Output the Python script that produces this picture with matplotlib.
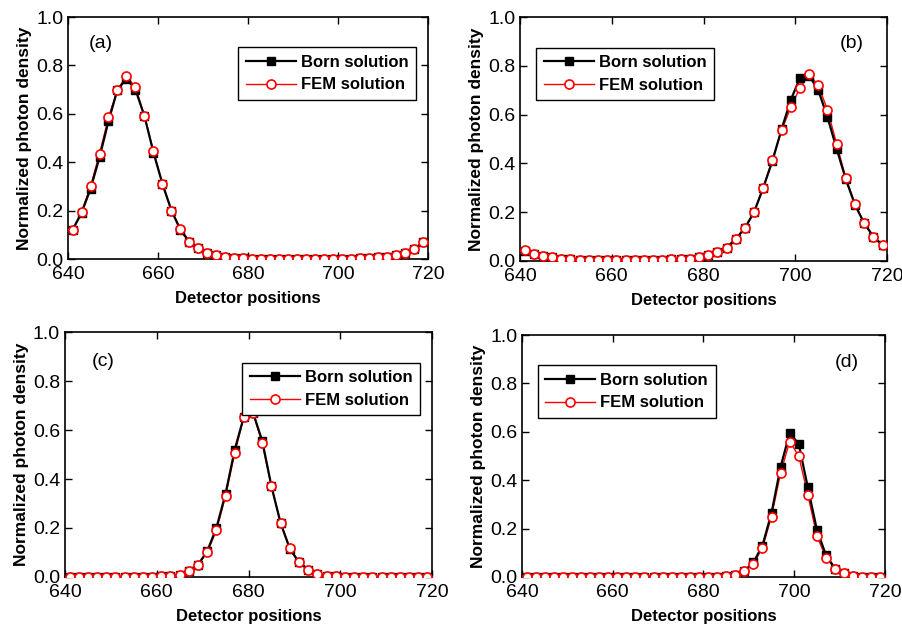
import numpy as np
import matplotlib
matplotlib.use('Agg')
import matplotlib.pyplot as plt

plt.rcParams['font.family'] = ['Liberation Sans', 'DejaVu Sans']

# detector positions (odd detectors 641..719)
detectors = list(range(641, 720, 2))

# panel (a)
born_a = [0.12, 0.19, 0.29, 0.42, 0.57, 0.70, 0.745, 0.70, 0.59, 0.44,
          0.31, 0.20, 0.12, 0.07, 0.045, 0.025, 0.015, 0.01, 0.005, 0.003,
          0.002, 0.002, 0.002, 0.002, 0.002, 0.002, 0.002, 0.002, 0.002, 0.002,
          0.002, 0.002, 0.003, 0.005, 0.007, 0.01, 0.015, 0.025, 0.04, 0.07]
fem_a = [0.12, 0.195, 0.30, 0.435, 0.585, 0.70, 0.755, 0.71, 0.59, 0.445,
         0.31, 0.20, 0.125, 0.072, 0.045, 0.025, 0.015, 0.01, 0.005, 0.003,
         0.002, 0.002, 0.002, 0.002, 0.002, 0.002, 0.002, 0.002, 0.002, 0.002,
         0.002, 0.002, 0.003, 0.005, 0.007, 0.01, 0.015, 0.025, 0.042, 0.07]

# panel (b)
born_b = [0.04, 0.03, 0.02, 0.015, 0.01, 0.008, 0.006, 0.005, 0.005, 0.005,
          0.005, 0.005, 0.005, 0.005, 0.005, 0.006, 0.007, 0.008, 0.01, 0.015,
          0.025, 0.035, 0.055, 0.09, 0.135, 0.20, 0.30, 0.41, 0.54, 0.66,
          0.75, 0.76, 0.70, 0.59, 0.46, 0.335, 0.23, 0.155, 0.10, 0.065]
fem_b = [0.045, 0.03, 0.02, 0.015, 0.01, 0.008, 0.006, 0.005, 0.005, 0.005,
         0.005, 0.005, 0.005, 0.005, 0.005, 0.006, 0.007, 0.008, 0.01, 0.015,
         0.025, 0.035, 0.055, 0.09, 0.135, 0.20, 0.30, 0.415, 0.535, 0.63,
         0.71, 0.765, 0.72, 0.62, 0.48, 0.34, 0.235, 0.155, 0.10, 0.065]

# panel (c)
born_c = [0.0, 0.0, 0.0, 0.0, 0.0, 0.0, 0.0, 0.0, 0.0, 0.0,
          0.002, 0.004, 0.01, 0.025, 0.05, 0.105, 0.20, 0.34, 0.52, 0.655,
          0.67, 0.555, 0.37, 0.22, 0.115, 0.06, 0.03, 0.012, 0.005, 0.002,
          0.0, 0.0, 0.0, 0.0, 0.0, 0.0, 0.0, 0.0, 0.0, 0.0]
fem_c = [0.0, 0.0, 0.0, 0.0, 0.0, 0.0, 0.0, 0.0, 0.0, 0.0,
         0.002, 0.004, 0.01, 0.025, 0.05, 0.10, 0.19, 0.33, 0.505, 0.655,
         0.67, 0.545, 0.37, 0.22, 0.12, 0.06, 0.03, 0.012, 0.005, 0.002,
         0.0, 0.0, 0.0, 0.0, 0.0, 0.0, 0.0, 0.0, 0.0, 0.0]

# panel (d)
born_d = [0.0, 0.0, 0.0, 0.0, 0.0, 0.0, 0.0, 0.0, 0.0, 0.0,
          0.0, 0.0, 0.0, 0.0, 0.0, 0.0, 0.0, 0.0, 0.0, 0.0,
          0.0, 0.0, 0.005, 0.01, 0.025, 0.06, 0.13, 0.265, 0.455, 0.595,
          0.55, 0.37, 0.195, 0.09, 0.035, 0.015, 0.005, 0.0, 0.0, 0.0]
fem_d = [0.0, 0.0, 0.0, 0.0, 0.0, 0.0, 0.0, 0.0, 0.0, 0.0,
         0.0, 0.0, 0.0, 0.0, 0.0, 0.0, 0.0, 0.0, 0.0, 0.0,
         0.0, 0.0, 0.005, 0.01, 0.025, 0.055, 0.12, 0.25, 0.43, 0.56,
         0.50, 0.34, 0.17, 0.08, 0.035, 0.015, 0.005, 0.0, 0.0, 0.0]

panels = [
    ('(a)', born_a, fem_a, [0.0754, 0.5895, 0.399, 0.3835], 'upper right', (0.09, 0.89)),
    ('(b)', born_b, fem_b, [0.5765, 0.5864, 0.407, 0.3866], 'upper left', (0.905, 0.89)),
    ('(c)', born_c, fem_c, [0.072, 0.0856, 0.407, 0.3882], 'upper right', (0.105, 0.88)),
    ('(d)', born_d, fem_d, [0.5787, 0.0856, 0.4024, 0.3834], 'upper left', (0.895, 0.885)),
]

fig = plt.figure(figsize=(9.02, 6.31), dpi=100)

for letter, born, fem, pos, loc, txt in panels:
    ax = fig.add_axes(pos)
    # red line underneath, black line with squares, then red circles on top
    ax.plot(detectors, fem, '-', color='red', lw=1.0, zorder=2)
    hb, = ax.plot(detectors, born, '-', color='black', lw=1.6, marker='s',
                  markersize=6, markerfacecolor='black', markeredgecolor='black', zorder=3)
    ax.plot(detectors, fem, 'o', color='red', markersize=6.5,
            markerfacecolor='white', markeredgecolor='red', markeredgewidth=1.2, zorder=4)
    hf, = ax.plot([], [], '-', color='red', lw=1.0, marker='o', markersize=6.5,
                  markerfacecolor='white', markeredgecolor='red', markeredgewidth=1.2)

    ax.set_xlim(640, 720)
    ax.set_ylim(0, 1.0)
    ax.set_xticks([640, 660, 680, 700, 720])
    ax.set_yticks([0.0, 0.2, 0.4, 0.6, 0.8, 1.0])
    ax.set_yticklabels(['0.0', '0.2', '0.4', '0.6', '0.8', '1.0'])
    ax.tick_params(direction='in', top=True, right=True, length=5, width=1,
                   labelsize=14)
    ax.tick_params(axis='x', pad=5)
    for sp in ax.spines.values():
        sp.set_linewidth(1.2)

    ax.set_xlabel('Detector positions', fontsize=12, fontweight='bold', labelpad=6)
    ax.set_ylabel('Normalized photon density', fontsize=12.5, fontweight='bold', labelpad=3)

    if loc == 'upper left':
        anchor = (0.03, 0.0, 0.96, 0.895)
    else:
        anchor = (0.0, 0.0, 0.98, 0.895)
    leg = ax.legend([hb, hf], ['Born solution', 'FEM solution'], loc=loc,
                    prop={'size': 12, 'weight': 'bold'}, fancybox=False,
                    edgecolor='black', framealpha=1, handlelength=3.0,
                    borderpad=0.45, labelspacing=0.45, handletextpad=0.3,
                    borderaxespad=0.3, bbox_to_anchor=anchor)
    leg.get_frame().set_linewidth(1.0)

    ax.text(txt[0], txt[1], letter, transform=ax.transAxes, fontsize=14,
            ha='center', va='center')

plt.savefig('out.png', dpi=100)
